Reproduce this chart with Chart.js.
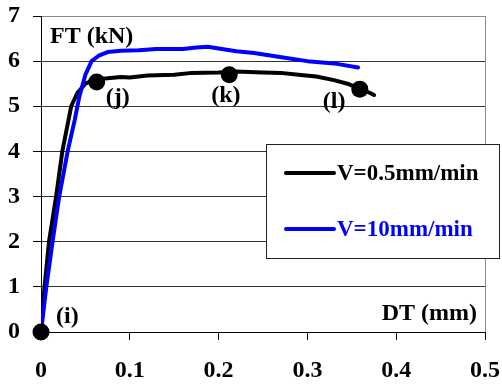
<!DOCTYPE html>
<html>
<head>
<meta charset="utf-8">
<script src="https://cdn.jsdelivr.net/npm/chart.js@4/dist/chart.umd.min.js"></script>
<style>
  html, body { margin: 0; padding: 0; background: #fff; }
  #wrap { width: 502px; height: 385px; }
</style>
</head>
<body>
<div id="wrap"><canvas id="c" width="502" height="385"></canvas></div>
<script>
// ---- data ----
const slowDT = [0, 0.004, 0.009, 0.017, 0.024, 0.034, 0.041, 0.05, 0.06, 0.075, 0.09, 0.1, 0.12, 0.15, 0.17, 0.2, 0.22, 0.25, 0.27, 0.29, 0.31, 0.33, 0.345, 0.36, 0.37, 0.375];
const slowFT = [0, 1, 2, 3, 4, 5, 5.3, 5.5, 5.6, 5.62, 5.65, 5.64, 5.68, 5.7, 5.74, 5.75, 5.77, 5.75, 5.74, 5.7, 5.66, 5.58, 5.5, 5.38, 5.3, 5.25];
const fastDT = [0, 0.006, 0.013, 0.0205, 0.03, 0.038, 0.043, 0.05, 0.057, 0.065, 0.075, 0.09, 0.11, 0.13, 0.16, 0.175, 0.188, 0.2, 0.22, 0.24, 0.26, 0.28, 0.3, 0.33, 0.357];
const fastFT = [0, 1, 2, 3, 4, 4.7, 5.2, 5.7, 6.0, 6.12, 6.2, 6.23, 6.24, 6.27, 6.27, 6.3, 6.32, 6.28, 6.22, 6.18, 6.12, 6.06, 6.0, 5.95, 5.86];
const markDT = [0, 0.0627, 0.212, 0.359];
const markFT = [0, 5.54, 5.70, 5.38];
const markLabels = ['(i)', '(j)', '(k)', '(l)'];
const seriesLabels = ['V=0.5mm/min', 'V=10mm/min'];
const xTicks = [0, 0.1, 0.2, 0.3, 0.4, 0.5];
const yTicks = [0, 1, 2, 3, 4, 5, 6, 7];
const xTitle = 'DT (mm)';
const yTitle = 'FT (kN)';

const FONT = '"Liberation Serif", "Times New Roman", serif';
const BLUE = '#0000ff';

const toPts = (xs, ys) => xs.map((x, i) => ({ x: x, y: ys[i] }));

// label offsets (pixels) relative to each marker
const labelOffsets = [[15, -9], [9, 22], [-18, 27], [-37, 19]];

const overlay = {
  id: 'overlay',
  afterDatasetsDraw(chart) {
    const ctx = chart.ctx;
    const a = chart.chartArea;
    const xs = chart.scales.x, ys = chart.scales.y;
    ctx.save();
    // gray frame right side
    ctx.strokeStyle = '#8a8a8a';
    ctx.lineWidth = 1;
    ctx.beginPath();
    ctx.moveTo(Math.round(a.right) + 0.5, a.top);
    ctx.lineTo(Math.round(a.right) + 0.5, a.bottom);
    ctx.stroke();

    // axis titles
    ctx.fillStyle = '#000';
    ctx.font = 'bold 24px ' + FONT;
    ctx.textBaseline = 'alphabetic';
    ctx.textAlign = 'left';
    ctx.fillText(yTitle, 50, 43);
    ctx.textAlign = 'right';
    ctx.fillText(xTitle, 477, 320);

    // marker labels
    ctx.textAlign = 'left';
    markLabels.forEach((t, i) => {
      const px = xs.getPixelForValue(markDT[i]);
      const py = ys.getPixelForValue(markFT[i]);
      ctx.fillText(t, px + labelOffsets[i][0], py + labelOffsets[i][1]);
    });

    // legend box
    const lx = 266, ly = 144, lw = 234, lh = 115;
    ctx.fillStyle = '#fff';
    ctx.fillRect(lx, ly, lw, lh);
    ctx.strokeStyle = '#222';
    ctx.lineWidth = 1;
    ctx.strokeRect(lx + 0.5, ly + 0.5, lw - 1, lh - 1);
    const rows = [173, 229];
    chart.data.datasets.slice(0, 2).forEach((ds, i) => {
      const y = rows[i];
      ctx.strokeStyle = ds.borderColor;
      ctx.lineWidth = 4;
      ctx.lineCap = 'round';
      ctx.beginPath();
      ctx.moveTo(286, y);
      ctx.lineTo(334, y);
      ctx.stroke();
      ctx.fillStyle = ds.borderColor;
      ctx.textBaseline = 'middle';
      ctx.textAlign = 'left';
      ctx.font = 'bold 23px ' + FONT;
      ctx.fillText(ds.label, 337, y + 1);
    });
    ctx.restore();
  }
};

new Chart(document.getElementById('c'), {
  type: 'scatter',
  data: {
    datasets: [
      { label: seriesLabels[0], data: toPts(slowDT, slowFT), showLine: true, borderColor: '#000', backgroundColor: '#000', borderWidth: 4, pointRadius: 0, tension: 0, borderCapStyle: 'round', borderJoinStyle: 'round', order: 2 },
      { label: seriesLabels[1], data: toPts(fastDT, fastFT), showLine: true, borderColor: BLUE, backgroundColor: BLUE, borderWidth: 4, pointRadius: 0, tension: 0, borderCapStyle: 'round', borderJoinStyle: 'round', order: 1 },
      { label: 'points', data: toPts(markDT, markFT), showLine: false, clip: false, pointRadius: 8.5, pointBackgroundColor: '#000', pointBorderColor: '#000', pointBorderWidth: 0, order: 0 }
    ]
  },
  options: {
    responsive: false,
    animation: false,
    events: [],
    layout: { padding: { top: 16, right: 17, left: 0, bottom: 0 } },
    plugins: { legend: { display: false }, tooltip: { enabled: false } },
    scales: {
      x: {
        type: 'linear', min: 0, max: 0.5,
        afterBuildTicks: (s) => { s.ticks = xTicks.map(v => ({ value: v })); },
        afterFit: (s) => { s.height = 53; s.paddingLeft = 0; s.paddingRight = 0; },
        ticks: { color: '#000', padding: 16, font: { family: FONT, size: 24, weight: 'bold' }, maxRotation: 0,
          callback: (v) => String(v) },
        grid: { drawOnChartArea: false, drawTicks: true, tickLength: 8, color: '#000', tickColor: '#000' },
        border: { color: '#000', width: 1 }
      },
      y: {
        type: 'linear', min: 0, max: 7,
        afterBuildTicks: (s) => { s.ticks = yTicks.map(v => ({ value: v })); },
        afterFit: (s) => { s.width = 41; s.paddingTop = 0; s.paddingBottom = 0; },
        ticks: { color: '#000', padding: 13, font: { family: FONT, size: 24, weight: 'bold' }, callback: (v) => String(v) },
        grid: { drawTicks: true, tickLength: 8, color: (c) => (c.tick && c.tick.value === 7 ? '#8a8a8a' : '#333'), tickColor: '#000' },
        border: { color: '#000', width: 1 }
      }
    }
  },
  plugins: [overlay]
});
</script>
</body>
</html>
